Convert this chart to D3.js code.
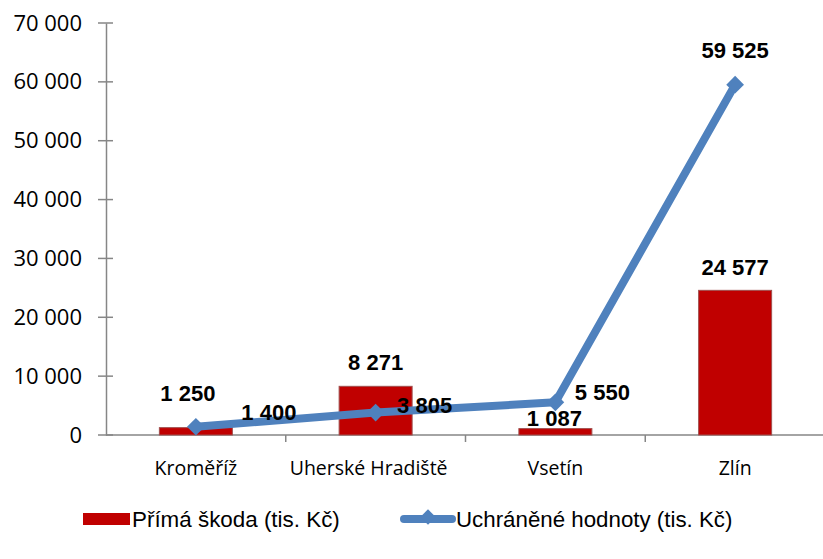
<!DOCTYPE html>
<html><head><meta charset="utf-8">
<script src="https://cdn.jsdelivr.net/npm/d3@7"></script>
<style>body{margin:0;background:#fff}svg{display:block}text{font-family:Arial,"Liberation Sans",sans-serif}.os{font-family:"Open Sans",sans-serif}</style>
</head><body><svg id="c" width="823" height="559"></svg>
<script>
const categories = ["Kroměříž", "Uherské Hradiště", "Vsetín", "Zlín"];
const primaSkoda = [1250, 8271, 1087, 24577];
const uchranene = [1400, 3805, 5550, 59525];
const yTicks = [0, 10000, 20000, 30000, 40000, 50000, 60000, 70000];
const seriesNames = ["Přímá škoda (tis. Kč)", "Uchráněné hodnoty (tis. Kč)"];

const svg = d3.select("#c");
const fmt = v => d3.format(",")(v).replace(/,/g, " ");
const x = d3.scaleBand().domain(categories).range([106, 825]);
const y = d3.scaleLinear().domain([0, 70000]).range([435, 23]);

// y axis
const yAxis = svg.append("g").attr("transform", "translate(106,0)")
  .call(d3.axisLeft(y).tickValues(yTicks).tickFormat(fmt).tickSize(0).tickPadding(24));
yAxis.attr("font-family", null).attr("font-size", null);
yAxis.select(".domain").attr("stroke", "#868686").attr("stroke-width", 1.5);
yAxis.selectAll("text").attr("class", "os").style("font-size", "22px").attr("fill", "#000");
yAxis.selectAll(".tk").data(yTicks).enter().append("line")
  .attr("x1", -8).attr("x2", 7).attr("y1", d => y(d)).attr("y2", d => y(d))
  .attr("stroke", "#868686").attr("stroke-width", 1.5);

// x axis
svg.append("line").attr("x1", 106).attr("x2", 823).attr("y1", y(0)).attr("y2", y(0))
  .attr("stroke", "#868686").attr("stroke-width", 1.5);
const bounds = categories.slice(1).map(c => x(c));
svg.selectAll(".xt").data(bounds).enter().append("line")
  .attr("x1", d => d).attr("x2", d => d).attr("y1", y(0)).attr("y2", y(0) + 7)
  .attr("stroke", "#868686").attr("stroke-width", 1.5);
const catDx = [0, -7, 0, 0];
svg.selectAll(".xl").data(categories).enter().append("text").attr("class", "os")
  .attr("x", (d, i) => x(d) + x.bandwidth() / 2 + catDx[i]).attr("y", 475)
  .attr("text-anchor", "middle").style("font-size", "19.5px").text(d => d);

// bars
const bw = 73;
svg.selectAll(".bar").data(primaSkoda).enter().append("rect")
  .attr("x", (d, i) => x(categories[i]) + x.bandwidth() / 2 - bw / 2)
  .attr("y", d => y(d)).attr("width", bw).attr("height", d => y(0) - y(d))
  .attr("fill", "#C00000").attr("stroke", "#A0504F").attr("stroke-width", 1);

// line
const pts = uchranene.map((v, i) => [x(categories[i]) + x.bandwidth() / 2, y(v)]);
svg.append("path").attr("d", d3.line()(pts)).attr("fill", "none")
  .attr("stroke", "#4F81BD").attr("stroke-width", 8).attr("stroke-linejoin", "round");
const diamond = d3.symbol().type(d3.symbolDiamond2).size(200);
svg.selectAll(".mk").data(pts).enter().append("path")
  .attr("d", diamond).attr("transform", d => `translate(${d[0]},${d[1]})`)
  .attr("fill", "#4F81BD");

// bar labels
const barDx = [-8, 0, -1, 0], barDy = [-27, -16, -3, -15];
svg.selectAll(".bl").data(primaSkoda).enter().append("text")
  .attr("x", (d, i) => x(categories[i]) + x.bandwidth() / 2 + barDx[i])
  .attr("y", (d, i) => y(d) + barDy[i])
  .attr("text-anchor", "middle").style("font-size", "22px").attr("font-weight", "bold").text(fmt);

// line labels
const lnDx = [73, 49, 47, 0], lnDy = [-7, 0, -2, -27];
svg.selectAll(".ll").data(uchranene).enter().append("text")
  .attr("x", (d, i) => pts[i][0] + lnDx[i])
  .attr("y", (d, i) => pts[i][1] + lnDy[i])
  .attr("text-anchor", "middle")
  .style("font-size", "22px").attr("font-weight", "bold").text(fmt);

// legend
svg.append("rect").attr("x", 83).attr("y", 513).attr("width", 47).attr("height", 12).attr("fill", "#C00000");
svg.append("text").attr("x", 132).attr("y", 527).style("font-size", "22.4px").text(seriesNames[0]);
svg.append("line").attr("x1", 404).attr("x2", 452).attr("y1", 519).attr("y2", 519)
  .attr("stroke", "#4F81BD").attr("stroke-width", 8).attr("stroke-linecap", "round");
svg.append("path").attr("d", d3.symbol().type(d3.symbolDiamond2).size(150)).attr("transform", "translate(428,517)").attr("fill", "#4F81BD");
svg.append("text").attr("x", 456).attr("y", 527).style("font-size", "22.3px").text(seriesNames[1]);
</script></body></html>
